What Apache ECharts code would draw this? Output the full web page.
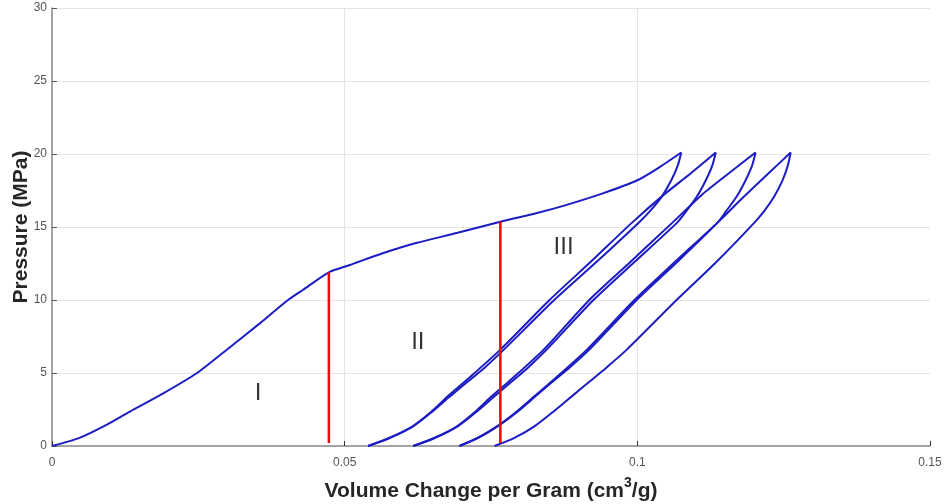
<!DOCTYPE html>
<html>
<head>
<meta charset="utf-8">
<script src="https://cdn.jsdelivr.net/npm/echarts@6/dist/echarts.min.js"></script>
<style>
  html, body { margin: 0; padding: 0; background: #fff; }
  #chart { width: 944px; height: 504px; }
</style>
</head>
<body>
<div id="chart"></div>
<script>
// Pressure vs. specific volume change: first compression, then four unload/reload cycles.
// Each point is [volume change (cm3/g), pressure (MPa)].
const loading = [
  [0, 0], [0.0048, 0.57], [0.0093, 1.44], [0.0133, 2.35], [0.0190, 3.6],
  [0.0247, 4.98], [0.0298, 6.58], [0.0355, 8.4], [0.0400, 9.9], [0.0429, 10.7],
  [0.0473, 11.9], [0.0509, 12.4], [0.0565, 13.2], [0.0622, 13.9], [0.0693, 14.6],
  [0.0766, 15.36], [0.0827, 15.94], [0.0878, 16.5], [0.0941, 17.3], [0.1000, 18.2],
  [0.1038, 19.1], [0.1075, 20.1]
];
const unload1 = [
  [0.1075, 20.1], [0.1069, 19.2], [0.1058, 18.2], [0.1042, 17.1], [0.1022, 16.1],
  [0.1005, 15.4], [0.0930, 12.6], [0.0858, 10.0], [0.0772, 6.6], [0.0740, 5.4],
  [0.0710, 4.4], [0.0680, 3.4], [0.0651, 2.4], [0.0617, 1.35], [0.0577, 0.55], [0.0540, 0]
];
const reload2 = [
  [0.0540, 0], [0.0573, 0.5], [0.0614, 1.3], [0.0648, 2.35], [0.0676, 3.4],
  [0.0705, 4.4], [0.0766, 6.6], [0.0850, 10.0], [0.0920, 12.6], [0.0991, 15.3],
  [0.1045, 17.2], [0.1092, 18.7], [0.1134, 20.1]
];
const unload2 = [
  [0.1134, 20.1], [0.1128, 19.2], [0.1117, 18.2], [0.1102, 17.1], [0.1084, 16.1],
  [0.1068, 15.3], [0.0995, 12.6], [0.0925, 10.0], [0.0845, 6.6], [0.0814, 5.4],
  [0.0785, 4.4], [0.0756, 3.4], [0.0727, 2.4], [0.0693, 1.35], [0.0654, 0.55], [0.0617, 0]
];
const reload3 = [
  [0.0617, 0], [0.0650, 0.5], [0.0690, 1.3], [0.0723, 2.35], [0.0751, 3.4],
  [0.0780, 4.4], [0.0840, 6.6], [0.0918, 10.0], [0.0988, 12.6], [0.1060, 15.3],
  [0.1110, 17.2], [0.1157, 18.7], [0.1202, 20.1]
];
const unload3 = [
  [0.1202, 20.1], [0.1196, 19.2], [0.1185, 18.2], [0.1170, 17.1], [0.1152, 16.1],
  [0.1137, 15.3], [0.1068, 12.6], [0.0999, 10.0], [0.0918, 6.6], [0.0885, 5.4],
  [0.0855, 4.4], [0.0826, 3.4], [0.0797, 2.4], [0.0765, 1.45], [0.0730, 0.6], [0.0696, 0]
];
const reload4 = [
  [0.0696, 0], [0.0727, 0.55], [0.0764, 1.45], [0.0795, 2.4], [0.0824, 3.4],
  [0.0853, 4.4], [0.0914, 6.6], [0.0995, 10.0], [0.1064, 12.6], [0.1137, 15.3],
  [0.1180, 17.0], [0.1222, 18.6], [0.1262, 20.1]
];
const unload4 = [
  [0.1262, 20.1], [0.1257, 19.2], [0.1248, 18.2], [0.1234, 17.1], [0.1217, 16.1],
  [0.1200, 15.3], [0.1135, 12.6], [0.1067, 10.0], [0.0982, 6.6], [0.0948, 5.4],
  [0.0918, 4.4], [0.0888, 3.4], [0.0858, 2.4], [0.0826, 1.4], [0.0790, 0.55], [0.0756, 0]
];

// Stage boundaries (red verticals) and stage names
const boundaryX = [0.0473, 0.0766];
const boundaryBottom = [0.2, 0.2];
const boundaryTop = [11.9, 15.36];
const stageNames = ['I', 'II', 'III'];
const stageX = [0.0352, 0.0625, 0.0874];
const stageP = [3.6, 7.1, 13.6];

const xTicks = [0, 0.05, 0.1, 0.15];
const yTicks = [0, 5, 10, 15, 20, 25, 30];

const FONT = 'Liberation Sans, Arial, Helvetica, sans-serif';
const curveColor = '#1c1cc4';
const curves = [loading, unload1, reload2, unload2, reload3, unload3, reload4, unload4];

const series = curves.map(function (pts) {
  return {
    type: 'line',
    data: pts,
    showSymbol: false,
    smooth: 0.25,
    lineStyle: { color: curveColor, width: 2 },
    silent: true,
    z: 3
  };
});

boundaryX.forEach(function (x, i) {
  series.push({
    type: 'line',
    data: [[x, boundaryBottom[i]], [x, boundaryTop[i]]],
    showSymbol: false,
    lineStyle: { color: '#ff0000', width: 2.5 },
    silent: true,
    z: 4
  });
});

series.push({
  type: 'scatter',
  symbolSize: 0,
  data: stageNames.map(function (n, i) { return [stageX[i], stageP[i], n]; }),
  label: {
    show: true,
    position: 'inside',
    formatter: function (p) { return p.data[2]; },
    fontFamily: FONT,
    fontSize: 24,
    color: '#000'
  },
  silent: true,
  z: 5
});

const chart = echarts.init(document.getElementById('chart'), null, { renderer: 'canvas' });
chart.setOption({
  animation: false,
  backgroundColor: '#ffffff',
  grid: { left: 52, right: 14, top: 8, bottom: 58, outerBoundsMode: 'none', containLabel: false },
  xAxis: {
    type: 'value',
    min: xTicks[0],
    max: xTicks[xTicks.length - 1],
    interval: 0.05,
    name: '{t|Volume Change per Gram (cm}{s|3}{t|/g)}',
    nameLocation: 'middle',
    nameGap: 30,
    nameMoveOverlap: false,
    nameTextStyle: {
      verticalAlign: 'top',
      rich: {
        t: { fontFamily: FONT, fontSize: 21, fontWeight: 'bold', color: '#262626', lineHeight: 26, verticalAlign: 'bottom' },
        s: { fontFamily: FONT, fontSize: 14, fontWeight: 'bold', color: '#262626', lineHeight: 26, verticalAlign: 'top' }
      }
    },
    axisLine: { show: true, onZero: false, lineStyle: { color: '#8a8a8a', width: 1.5 } },
    axisTick: { show: true, inside: true, length: 5, lineStyle: { color: '#333', width: 1 } },
    axisLabel: {
      color: '#555', fontSize: 12, margin: 11, fontFamily: FONT,
      formatter: function (v) { return String(+v.toFixed(2)); }
    },
    splitLine: { show: true, showMaxLine: false, lineStyle: { color: '#e4e4e4', width: 1 } }
  },
  yAxis: {
    type: 'value',
    min: yTicks[0],
    max: yTicks[yTicks.length - 1],
    interval: 5,
    name: 'Pressure (MPa)',
    nameLocation: 'middle',
    nameGap: 20,
    nameMoveOverlap: false,
    nameTextStyle: { fontFamily: FONT, fontSize: 21, fontWeight: 'bold', color: '#262626' },
    axisLine: { show: true, onZero: false, lineStyle: { color: '#8a8a8a', width: 1.5 } },
    axisTick: { show: true, inside: true, length: 5, lineStyle: { color: '#555', width: 1 } },
    axisLabel: { color: '#555', fontSize: 12, margin: 5, fontFamily: FONT },
    splitLine: { show: true, lineStyle: { color: '#e4e4e4', width: 1 } }
  },
  series: series
});
</script>
</body>
</html>
